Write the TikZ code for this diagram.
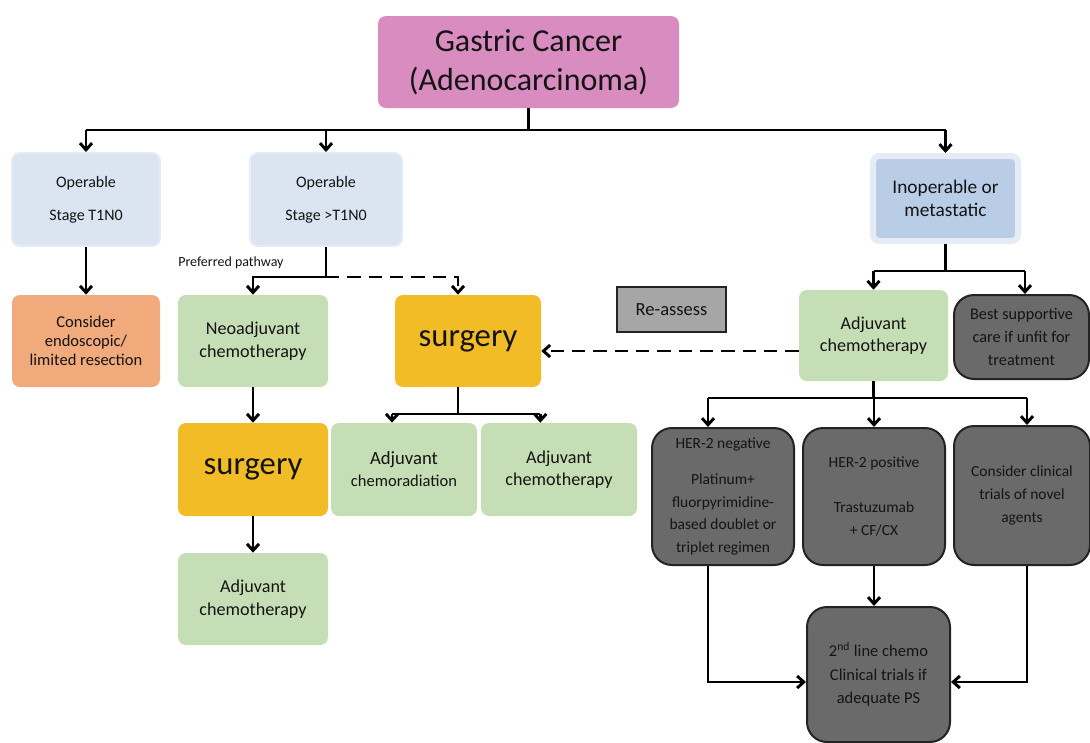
\documentclass[tikz,border=0pt]{standalone}
\usepackage{fontspec}
\setmainfont{Carlito}
\usepackage{tikz}
\usetikzlibrary{arrows.meta}
\usetikzlibrary{positioning}

\definecolor{pinkbox}{RGB}{217,140,192}
\definecolor{opblue}{RGB}{219,228,241}
\definecolor{opedge}{RGB}{229,236,246}
\definecolor{inopblue}{RGB}{185,205,230}
\definecolor{orangebox}{RGB}{240,170,124}
\definecolor{adjgreen}{RGB}{198,222,181}
\definecolor{surggold}{RGB}{242,188,38}
\definecolor{darkgrey}{RGB}{106,106,106}
\definecolor{edgegrey}{RGB}{35,35,35}
\definecolor{reagrey}{RGB}{166,166,166}
\definecolor{txt}{RGB}{20,20,20}

\begin{document}
\begin{tikzpicture}[x=0.75pt,y=-0.75pt,
  boxsize/.style 2 args={minimum width=#1*0.75pt, minimum height=#2*0.75pt},
  box/.style={rounded corners=6pt, align=center, inner sep=0pt, text=txt},
  titlebox/.style={box, fill=pinkbox, font=\fontsize{24}{29}\selectfont},
  opbox/.style={box, fill=opblue, draw=opedge, line width=1.5pt, font=\fontsize{12}{14}\selectfont},
  inopbox/.style={box, rounded corners=5pt, fill=inopblue, draw=opedge, line width=4.5pt, font=\fontsize{14.5}{17}\selectfont},
  greenbox/.style={box, fill=adjgreen, font=\fontsize{13.6}{17}\selectfont},
  surgbox/.style={box, fill=surggold, font=\fontsize{24.5}{26}\selectfont},
  darkbox/.style={box, rounded corners=15pt, fill=darkgrey, draw=edgegrey, line width=1.5pt, font=\fontsize{11.6}{17}\selectfont},
  reabox/.style={box, rounded corners=0pt, fill=reagrey, draw=edgegrey, line width=2pt, font=\fontsize{13.9}{16}\selectfont},
  conn/.style={line width=2.2pt, draw=black},
  arr/.style={conn, -{Straight Barb[length=5pt,width=9pt]}},
  dashlink/.style={dash pattern=on 10pt off 6pt}]
  \useasboundingbox (0,0) rectangle (1090,743);

  % boxes
  \node[titlebox, boxsize={301}{92}] (title) at (528.5,62) {Gastric Cancer\\(Adenocarcinoma)};
  \node[opbox, boxsize={148}{93}] (op1) at (86,199.5) {Operable\\[11pt]Stage T1N0};
  \node[opbox, boxsize={152}{93}] (op2) at (326,199.5) {Operable\\[11pt]Stage >T1N0};
  \node[inopbox, boxsize={145}{85}] (inop) at (945.5,198.5) {Inoperable or\\metastatic};

  \node[box, fill=orangebox, boxsize={148}{92}, font=\fontsize{12.4}{14.3}\selectfont] (endo) at (86,341) {Consider\\endoscopic/\\limited resection};
  \node[greenbox, boxsize={150}{92}] (neo) at (253,341) {Neoadjuvant\\chemotherapy};
  \node[surgbox, boxsize={146}{92}] (surg1) at (468,341) {surgery};
  \node[reabox, boxsize={109}{45}] (reassess) at (671.5,309.5) {Re-assess};
  \node[greenbox, boxsize={149}{91}] (adj2) at (873.5,335.5) {Adjuvant\\chemotherapy};
  \node[darkbox, boxsize={135}{84}, font=\fontsize{12.2}{17}\selectfont] (bsc) at (1021.5,337) {Best supportive\\care if unfit for\\treatment};

  \node[surgbox, boxsize={150}{93}] (surg2) at (253,469.5) {surgery};
  \node[greenbox, boxsize={146}{93}, font=\fontsize{12.4}{16.5}\selectfont] (chrad) at (404,469.5) {{\fontsize{14}{16.5}\selectfont Adjuvant}\\chemoradiation};
  \node[greenbox, boxsize={156}{93}] (chemo2) at (559,469.5) {Adjuvant\\chemotherapy};
  \node[greenbox, boxsize={150}{92}] (adj1) at (253,599) {Adjuvant\\chemotherapy};

  \node[darkbox, boxsize={142}{137}] (her2n) at (723,496.5) {HER-2 negative\\[10pt]Platinum+\\fluorpyrimidine-\\based doublet or\\triplet regimen};
  \node[darkbox, boxsize={142}{137}] (her2p) at (874,496.5) {HER-2 positive\\[17pt]Trastuzumab\\+ CF/CX};
  \node[darkbox, boxsize={136}{139}] (trials) at (1022,495.5) {Consider clinical\\trials of novel\\agents};
  \node[darkbox, boxsize={143}{135}, font=\fontsize{12.4}{17.6}\selectfont] (second) at (878.5,674.5) {2\textsuperscript{nd} line chemo\\Clinical trials if\\adequate PS};

  \node[font=\fontsize{10.5}{12}\selectfont, anchor=west, inner sep=0pt, text=txt] (preflabel) at (178,263) {Preferred pathway};

  % bus rows and shifted entry points
  \coordinate (topbus) at (0,130);
  \coordinate (prefbus) at (0,277);
  \coordinate (surgbus) at (0,414);
  \coordinate (inopbus) at (0,271);
  \coordinate (adjbus) at (0,398);
  \coordinate (merge) at (0,682);
  \coordinate (dashy) at (0,351);
  \coordinate (surgin) at ([xshift=-7.5pt]surg1.north);
  \coordinate (surgout) at ([xshift=-7.5pt]surg1.south);
  \coordinate (chradin) at ([xshift=-9pt]chrad.north);
  \coordinate (chemoin) at ([xshift=-14pt]chemo2.north);
  \coordinate (bscin) at ([xshift=2.6pt]bsc.north);
  \coordinate (her2nin) at ([xshift=-11.25pt]her2n.north);
  \coordinate (her2nout) at ([xshift=-11.25pt]her2n.south);
  \coordinate (trialsin) at ([xshift=3.75pt]trials.north);
  \coordinate (trialsout) at ([xshift=3.75pt]trials.south);

  % top split
  \draw[conn] (title.south) -- (title.south |- topbus);
  \draw[conn] (op1.north |- topbus) -- (inop.north |- topbus);
  \draw[arr] (op1.north |- topbus) -- (op1.north);
  \draw[arr] (op2.north |- topbus) -- (op2.north);
  \draw[arr] (inop.north |- topbus) -- (inop.north);

  % operable branches
  \draw[arr] (op1) -- (endo);
  \draw[arr] (op2.south) -- (op2.south |- prefbus) -| (neo.north);
  \draw[arr, dashlink] (op2.south |- prefbus) -| (surgin);
  \draw[arr] (neo) -- (surg2);
  \draw[arr] (surg2) -- (adj1);
  \draw[conn] (surgout) -- (surgout |- surgbus);
  \draw[conn] (chradin |- surgbus) -- (chemoin |- surgbus);
  \draw[arr] (chradin |- surgbus) -- (chradin);
  \draw[arr] (chemoin |- surgbus) -- (chemoin);

  % inoperable branches
  \draw[conn] (inop.south) -- (inop.south |- inopbus);
  \draw[conn] (adj2.north |- inopbus) -- (bscin |- inopbus);
  \draw[arr] (adj2.north |- inopbus) -- (adj2.north);
  \draw[arr] (bscin |- inopbus) -- (bscin);
  \draw[arr, dashlink] (adj2.west |- dashy) -- (surg1.east |- dashy);

  \draw[conn] (adj2.south) -- (adj2.south |- adjbus);
  \draw[conn] (her2nin |- adjbus) -- (trialsin |- adjbus);
  \draw[arr] (her2nin |- adjbus) -- (her2nin);
  \draw[arr] (her2p.north |- adjbus) -- (her2p.north);
  \draw[arr] (trialsin |- adjbus) -- (trialsin);

  % second line
  \draw[arr] (her2p.south) -- (her2p.south |- second.north);
  \draw[arr] (her2nout) |- (second.west |- merge);
  \draw[arr] (trialsout) |- (second.east |- merge);

\end{tikzpicture}
\end{document}
